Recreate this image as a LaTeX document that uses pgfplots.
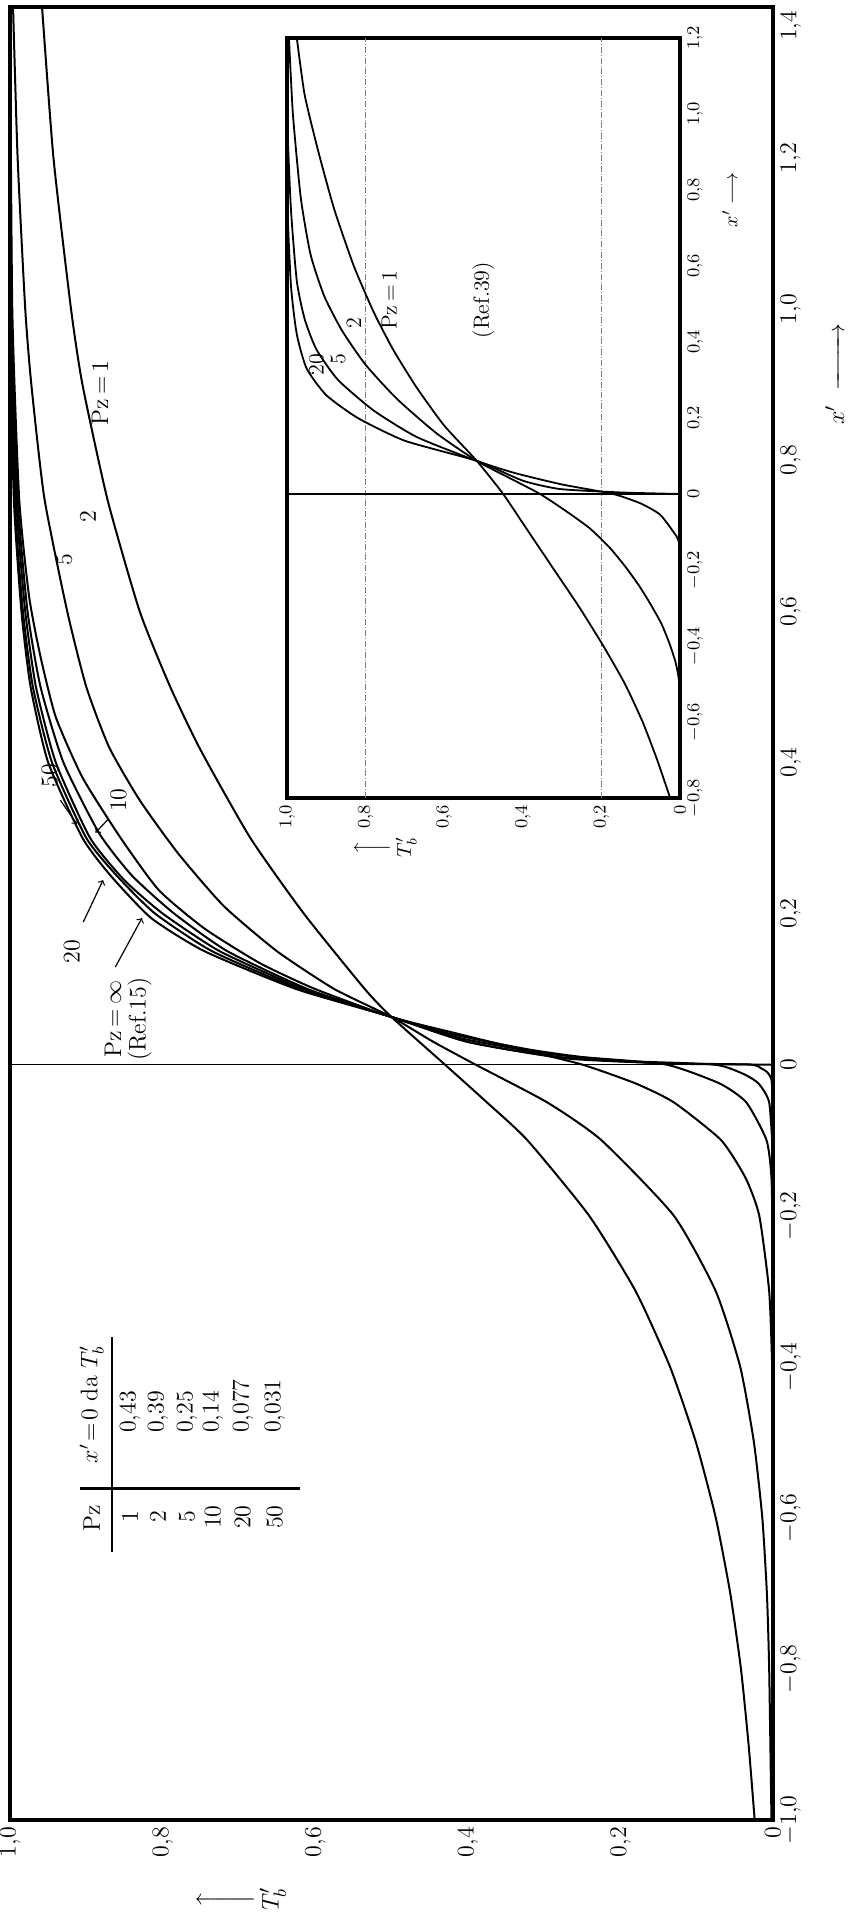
\documentclass[border=0pt]{standalone}
\usepackage{amsmath}
\usepackage{pgfplots}
\pgfplotsset{compat=1.18}
\pgfplotsset{crv/.style={black, line width=1pt, smooth, tension=0.35, no markers},
             icrv/.style={black, line width=0.9pt, smooth, tension=0.35, no markers}}
\begin{document}
\begin{tikzpicture}
\begin{axis}[
  at={(0pt,0pt)}, anchor=south west,
  scale only axis, width=381.5pt, height=906.5pt,
  x dir=reverse, xmin=0, xmax=1, ymin=-1, ymax=1.4,
  axis line style={line width=2pt},
  clip=false,
  major tick length=0pt,
  xtick={0,0.2,0.4,0.6,0.8,1},
  xticklabels={0,{0,2},{0,4},{0,6},{0,8},{1,0}},
  ytick={-1,-0.8,-0.6,-0.4,-0.2,0,0.2,0.4,0.6,0.8,1,1.2},
  yticklabels={{$-$1,0},{$-$0,8},{$-$0,6},{$-$0,4},{$-$0,2},0,{0,2},{0,4},{0,6},{0,8},{1,0},{1,2}},
  yticklabel pos=right,
  xticklabel style={rotate=90, anchor=east, font=\fontsize{12}{12}\selectfont},
  yticklabel style={rotate=90, anchor=north, font=\fontsize{12}{12}\selectfont},
]
% x'=0 line
\addplot[black, line width=0.8pt, no markers] coordinates {(0,0) (1,0)};
% Pz = 1
\addplot[crv] coordinates {(0.024,-1.0)(0.032,-0.9)(0.042,-0.8)(0.056,-0.7)(0.075,-0.6)(0.101,-0.5)(0.135,-0.4)(0.180,-0.3)(0.241,-0.2)(0.322,-0.1)(0.375,-0.05)(0.43,0)(0.50,0.063)(0.535,0.1)(0.615,0.2)(0.685,0.3)(0.75,0.416)(0.79,0.5)(0.83,0.6)(0.872,0.747)(0.905,0.9)(0.92,1.0)(0.943,1.2)(0.958,1.4)};
% Pz = 2
\addplot[crv] coordinates {(0.002,-1.0)(0.005,-0.8)(0.008,-0.7)(0.014,-0.6)(0.025,-0.5)(0.043,-0.4)(0.075,-0.3)(0.130,-0.2)(0.225,-0.1)(0.296,-0.05)(0.39,0)(0.445,0.03)(0.50,0.063)(0.575,0.1)(0.65,0.15)(0.72,0.21)(0.78,0.28)(0.83,0.35)(0.87,0.42)(0.90,0.5)(0.925,0.6)(0.955,0.75)(0.972,0.9)(0.98,1.0)(0.99,1.2)(0.996,1.4)};
% Pz = 5
\addplot[crv] coordinates {(0,-0.45)(0.001,-0.4)(0.005,-0.3)(0.018,-0.2)(0.036,-0.15)(0.068,-0.1)(0.13,-0.05)(0.18,-0.025)(0.25,0)(0.33,0.02)(0.41,0.04)(0.50,0.063)(0.60,0.1)(0.672,0.134)(0.745,0.18)(0.805,0.231)(0.855,0.3)(0.905,0.38)(0.94,0.46)(0.96,0.54)(0.975,0.62)(0.988,0.75)(0.997,1.0)(1.0,1.4)};
% Pz = 10
\addplot[crv] coordinates {(0,-0.25)(0.002,-0.15)(0.0085,-0.1)(0.035,-0.05)(0.07,-0.025)(0.14,0)(0.25,0.01)(0.32,0.02)(0.42,0.04)(0.50,0.063)(0.61,0.1)(0.715,0.15)(0.785,0.2)(0.84,0.25)(0.883,0.306)(0.93,0.4)(0.96,0.5)(0.977,0.6)(0.99,0.75)(0.998,1.0)(1.0,1.4)};
% Pz = 20
\addplot[crv] coordinates {(0,-0.12)(0.005,-0.05)(0.019,-0.025)(0.0385,-0.0125)(0.077,0)(0.2,0.005)(0.3,0.015)(0.41,0.035)(0.50,0.063)(0.615,0.1)(0.725,0.15)(0.80,0.2)(0.85,0.244)(0.895,0.3)(0.94,0.4)(0.966,0.5)(0.98,0.6)(0.992,0.75)(0.999,1.0)(1.0,1.4)};
% Pz = 50
\addplot[crv] coordinates {(0,-0.05)(0.002,-0.02)(0.0076,-0.01)(0.0155,-0.005)(0.031,0)(0.15,0.002)(0.28,0.01)(0.40,0.03)(0.50,0.063)(0.62,0.1)(0.735,0.15)(0.81,0.2)(0.86,0.25)(0.90,0.3)(0.945,0.4)(0.97,0.5)(0.983,0.6)(0.994,0.75)(0.999,1.0)(1.0,1.4)};
% Pz = infinity (Ref. 15)
\addplot[crv] coordinates {(0,0)(0.12,0.001)(0.27,0.008)(0.40,0.03)(0.50,0.063)(0.625,0.1)(0.745,0.15)(0.815,0.194)(0.868,0.25)(0.905,0.3)(0.95,0.4)(0.973,0.5)(0.985,0.6)(0.995,0.75)(1.0,1.0)(1.0,1.4)};

% top x' label kept inside the page
\node[rotate=90, anchor=north, font=\fontsize{12}{12}\selectfont] at (axis cs:0,1.375) {1,4};

% curve labels
\begin{scope}[font=\fontsize{12}{12}\selectfont]
\node[rotate=90] at (axis cs:0.882,0.889) {Pz\,=\,1};
\node[rotate=90] at (axis cs:0.898,0.726) {2};
\node[rotate=90] at (axis cs:0.929,0.669) {5};
\node[rotate=90] at (axis cs:0.948,0.383) {50};
\node[rotate=90] at (axis cs:0.858,0.350) {10};
\node[rotate=90] at (axis cs:0.919,0.150) {20};
\node[rotate=90] at (axis cs:0.865,0.060) {Pz\,=\,$\infty$};
\node[rotate=90] at (axis cs:0.830,0.060) {(Ref.15)};
\end{scope}
\draw[->, line width=0.6pt] (axis cs:0.934,0.350) -- (axis cs:0.912,0.318);
\draw[->, line width=0.6pt] (axis cs:0.872,0.324) -- (axis cs:0.888,0.307);
\draw[->, line width=0.6pt] (axis cs:0.904,0.1886) -- (axis cs:0.878,0.2442);
\draw[->, line width=0.6pt] (axis cs:0.862,0.129) -- (axis cs:0.827,0.194);

% table
\draw[line width=1.2pt] (axis cs:0.866,-0.361) -- (axis cs:0.866,-0.645);
\draw[line width=1.2pt] (axis cs:0.908,-0.561) -- (axis cs:0.620,-0.561);
\begin{scope}[font=\fontsize{12}{12}\selectfont]
\node[rotate=90] at (axis cs:0.893,-0.600) {Pz};
\node[rotate=90, anchor=west] at (axis cs:0.893,-0.537) {$x'\!=\!0$ da $T'_b$};
\node[rotate=90] at (axis cs:0.843,-0.599) {1};
\node[rotate=90] at (axis cs:0.806,-0.599) {2};
\node[rotate=90] at (axis cs:0.768,-0.599) {5};
\node[rotate=90] at (axis cs:0.734,-0.599) {10};
\node[rotate=90] at (axis cs:0.695,-0.599) {20};
\node[rotate=90] at (axis cs:0.653,-0.599) {50};
\node[rotate=90, anchor=west] at (axis cs:0.843,-0.497) {0,43};
\node[rotate=90, anchor=west] at (axis cs:0.806,-0.497) {0,39};
\node[rotate=90, anchor=west] at (axis cs:0.768,-0.497) {0,25};
\node[rotate=90, anchor=west] at (axis cs:0.734,-0.497) {0,14};
\node[rotate=90, anchor=west] at (axis cs:0.695,-0.497) {0,077};
\node[rotate=90, anchor=west] at (axis cs:0.653,-0.497) {0,031};
\end{scope}

% axis labels
\node[rotate=90, font=\fontsize{13}{13}\selectfont] at (axis cs:0.697,-1.105) {\shortstack{$\bigg\uparrow$\\$T'_b$}};
\node[rotate=90, font=\fontsize{13}{13}\selectfont] at (axis cs:-0.081,0.914) {$x'\ \xrightarrow{\hspace{26pt}}$};
\end{axis}

% inset
\begin{axis}[
  at={(138.5pt,511pt)}, anchor=south west,
  scale only axis, width=196.5pt, height=380pt,
  x dir=reverse, xmin=0, xmax=1, ymin=-0.8, ymax=1.2,
  axis background/.style={fill=white},
  axis line style={line width=1.6pt},
  clip=false,
  major tick length=0pt,
  xtick={0,0.2,0.4,0.6,0.8,1},
  xticklabels={0,{0,2},{0,4},{0,6},{0,8},{1,0}},
  ytick={-0.8,-0.6,-0.4,-0.2,0,0.2,0.4,0.6,0.8,1,1.2},
  yticklabels={{$-$0,8},{$-$0,6},{$-$0,4},{$-$0,2},0,{0,2},{0,4},{0,6},{0,8},{1,0},{1,2}},
  yticklabel pos=right,
  xticklabel style={rotate=90, anchor=east, font=\fontsize{9}{9}\selectfont},
  yticklabel style={rotate=90, anchor=north, font=\fontsize{9}{9}\selectfont},
]
\addplot[gray, densely dash dot, line width=0.4pt, no markers] coordinates {(0.8,-0.8)(0.8,1.2)};
\addplot[gray, densely dash dot, line width=0.4pt, no markers] coordinates {(0.2,-0.8)(0.2,1.2)};
\addplot[black, line width=0.7pt, no markers] coordinates {(0,0) (1,0)};
% Pz = 1
\addplot[icrv] coordinates {(0.025,-0.8)(0.058,-0.7)(0.095,-0.6)(0.14,-0.5)(0.195,-0.4)(0.255,-0.3)(0.32,-0.2)(0.385,-0.1)(0.45,0)(0.517,0.087)(0.60,0.18)(0.67,0.28)(0.73,0.38)(0.78,0.48)(0.83,0.6)(0.88,0.75)(0.92,0.9)(0.955,1.05)(0.975,1.2)};
% Pz = 2
\addplot[icrv] coordinates {(0,-0.52)(0.004,-0.48)(0.012,-0.44)(0.028,-0.39)(0.048,-0.34)(0.075,-0.29)(0.105,-0.24)(0.14,-0.19)(0.18,-0.14)(0.23,-0.09)(0.29,-0.045)(0.356,0)(0.43,0.04)(0.517,0.087)(0.62,0.16)(0.72,0.25)(0.80,0.34)(0.86,0.43)(0.905,0.52)(0.94,0.63)(0.965,0.78)(0.985,1.0)(0.995,1.2)};
% Pz = 5
\addplot[icrv] coordinates {(0,-0.14)(0.008,-0.113)(0.05,-0.055)(0.10,-0.025)(0.17,0)(0.30,0.025)(0.42,0.055)(0.517,0.087)(0.67,0.15)(0.78,0.22)(0.87,0.3)(0.925,0.38)(0.955,0.46)(0.975,0.56)(0.99,0.75)(1.0,1.0)(1.0,1.2)};
% Pz = 20
\addplot[icrv] coordinates {(0,0)(0.15,0.004)(0.305,0.013)(0.40,0.035)(0.517,0.087)(0.70,0.14)(0.82,0.2)(0.90,0.26)(0.95,0.33)(0.975,0.42)(0.99,0.55)(1.0,0.8)(1.0,1.2)};
\begin{scope}[font=\fontsize{11}{11}\selectfont]
\node[rotate=90] at (axis cs:0.925,0.34) {20};
\node[rotate=90] at (axis cs:0.87,0.356) {5};
\node[rotate=90] at (axis cs:0.83,0.45) {2};
\node[rotate=90] at (axis cs:0.74,0.51) {Pz\,=\,1};
\node[rotate=90] at (axis cs:0.50,0.51) {(Ref.39)};
\end{scope}
\node[rotate=90, font=\fontsize{10}{10}\selectfont] at (axis cs:0.75,-0.93) {\shortstack{$\Big\uparrow$\\$T'_b$}};
\node[rotate=90, font=\fontsize{10}{10}\selectfont] at (axis cs:-0.127,0.774) {$x'\longrightarrow$};
\end{axis}
\pgfresetboundingbox
\path[use as bounding box] (-5pt,-53pt) rectangle (422.5pt,910pt);
\end{tikzpicture}
\end{document}
